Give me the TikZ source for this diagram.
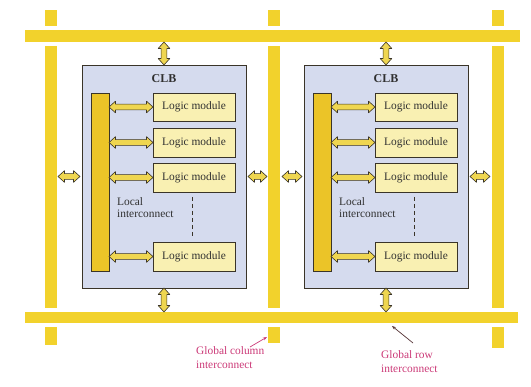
\documentclass[tikz,border=0pt]{standalone}
\usepackage{fontspec}
\setmainfont{Liberation Serif}
\usetikzlibrary{calc,arrows.meta}
\definecolor{busyellow}{HTML}{F2D22C}
\definecolor{clbfill}{HTML}{D5DBEE}
\definecolor{modfill}{HTML}{F9F0B2}
\definecolor{locbar}{HTML}{EBC428}
\definecolor{edge}{HTML}{3A3428}
\definecolor{arrfill}{HTML}{EFD650}
\definecolor{labpink}{HTML}{CC3A78}
\definecolor{txt}{HTML}{303030}
\tikzset{
  bus/.style={fill=busyellow, draw=none, inner sep=0pt, outer sep=0pt},
  clb/.style={fill=clbfill, draw=edge, line width=0.8pt, inner sep=0pt, outer sep=0pt},
  module/.style={fill=modfill, draw=edge, line width=0.9pt, inner sep=0pt, outer sep=0pt,
     minimum width=82pt, font=\fontsize{11.4}{13}\selectfont, text=txt},
  localbar/.style={fill=locbar, draw=edge, line width=0.9pt, inner sep=0pt, outer sep=0pt},
  lbl/.style={font=\fontsize{11.4}{14.5}\selectfont, text=labpink, align=left, inner sep=0pt},
  dbl/.style={fill=arrfill, draw=edge, line width=0.6pt, line join=round, to path={
    let \p1=(\tikztostart), \p2=(\tikztotarget), \n1={atan2(\y2-\y1,\x2-\x1)} in
    (\p1) -- ($(\p1)+(\n1:6.5pt)+(\n1+90:5.8pt)$) -- ($(\p1)+(\n1:6.5pt)+(\n1+90:2.9pt)$)
    -- ($(\p2)+(\n1:-6.5pt)+(\n1+90:2.9pt)$) -- ($(\p2)+(\n1:-6.5pt)+(\n1+90:5.8pt)$)
    -- (\p2) -- ($(\p2)+(\n1:-6.5pt)+(\n1-90:5.8pt)$) -- ($(\p2)+(\n1:-6.5pt)+(\n1-90:2.9pt)$)
    -- ($(\p1)+(\n1:6.5pt)+(\n1-90:2.9pt)$) -- ($(\p1)+(\n1:6.5pt)+(\n1-90:5.8pt)$) -- cycle}}
}
\begin{document}
\begin{tikzpicture}[x=1pt,y=-1pt]
\useasboundingbox[fill=white] (0,0) rectangle (531,387);
% vertical global columns
\node[bus, minimum width=12pt, minimum height=335pt, anchor=north west] (vc1) at (45,10) {};
\node[bus, minimum width=12pt, minimum height=333pt, anchor=north west] (vc2) at (268,10) {};
\node[bus, minimum width=12pt, minimum height=338pt, anchor=north west] (vc3) at (492,10) {};
% gaps at crossings
\fill[white] (20,26) rectangle (525,46);
\fill[white] (20,308) rectangle (525,327);
% horizontal global rows
\node[bus, minimum width=495pt, minimum height=12pt, anchor=north west] (ht) at (25,30) {};
\node[bus, minimum width=493pt, minimum height=11pt, anchor=north west] (hb) at (25,312) {};

% CLBs
\foreach \i/\x in {1/82, 2/304} {
  \node[clb, minimum width=164pt, minimum height=223pt, anchor=north west] (clb\i) at (\x,65) {};
  \node[font=\fontsize{12}{14}\selectfont\bfseries, text=txt, inner sep=0pt] (t\i) at (\x+82,79) {CLB};
  \node[localbar, minimum width=18pt, minimum height=178pt, anchor=north west] (lb\i) at (\x+9,93) {};
  \node[module, minimum height=28pt, anchor=north west] (m\i a) at (\x+71,93) {Logic module};
  \node[module, minimum height=29pt, anchor=north west] (m\i b) at (\x+71,128) {Logic module};
  \node[module, minimum height=29pt, anchor=north west] (m\i c) at (\x+71,163) {Logic module};
  \node[module, minimum height=29pt, anchor=north west] (m\i d) at (\x+71,242) {Logic module};
  \node[font=\fontsize{11.4}{12.5}\selectfont, text=txt, align=left, anchor=north west, inner sep=0pt] (li\i) at (\x+35,197) {Local\\interconnect};
  \draw[edge, line width=0.8pt, dash pattern=on 4pt off 3pt] (\x+110,197) -- (\x+110,237);
  \foreach \m in {a,b,c,d} {
    \path[dbl] (lb\i.east |- m\i\m.west) to (m\i\m.west);
  }
  \path[dbl] (ht.south -| clb\i.north) to (clb\i.north);
  \path[dbl] (clb\i.south) to (hb.north -| clb\i.south);
}
% side arrows
\path[dbl] ([xshift=1pt]vc1.east |- clb1.west) to ([xshift=-2pt]clb1.west);
\path[dbl] ([xshift=2pt]clb1.east) to ([xshift=-1pt]vc2.west |- clb1.east);
\path[dbl] ([xshift=2pt]vc2.east |- clb2.west) to ([xshift=-2pt]clb2.west);
\path[dbl] ([xshift=2pt]clb2.east) to ([xshift=-2pt]vc3.west |- clb2.east);

% labels
\node[lbl, anchor=north west] (gc) at (196,346) {Global column\\interconnect};
\node[lbl, anchor=north west] (gr) at (381,350) {Global row\\interconnect};
\coordinate (gcp) at (267,337);
\coordinate (grp) at (392,326);
\coordinate (gcs) at (250,347);
\coordinate (grs) at (413,343);
\draw[labpink, line width=0.7pt, -{Stealth[length=4pt]}] (gcs) -- (gcp);
\draw[edge!80!labpink, line width=0.7pt, -{Stealth[length=4pt]}] (grs) -- (grp);
\end{tikzpicture}
\end{document}
